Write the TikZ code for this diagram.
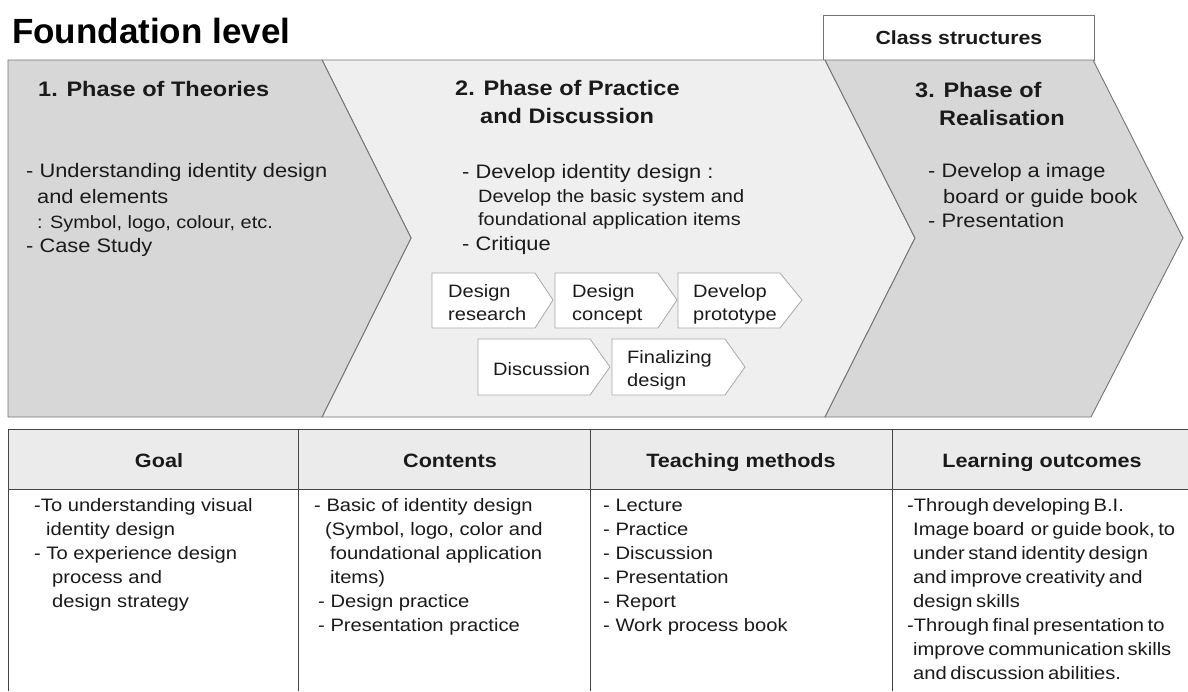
\documentclass[tikz,border=0pt]{standalone}
\usepackage{fontspec}
\setmainfont{Liberation Sans}[FakeStretch=1.12]
\newfontfamily\titlefont{Liberation Sans}
\newcommand\tightspaces{\spaceskip=3.6pt plus 1pt minus 1pt\relax}
\definecolor{darkchev}{HTML}{D7D7D7}
\definecolor{lightchev}{HTML}{EFEFEF}
\definecolor{edge}{HTML}{747474}
\definecolor{boxedge}{HTML}{A8A8A8}
\definecolor{hdr}{HTML}{EBEBEB}
\definecolor{tline}{HTML}{454545}
\definecolor{ink}{HTML}{1A1A1A}
\begin{document}
\begin{tikzpicture}[x=1pt,y=-1pt,
  chev/.style={draw=edge, line width=0.9pt, line join=miter},
  sbox/.style={draw=boxedge, fill=white, line width=0.8pt},
  ttl/.style={inner sep=0pt, anchor=base west, text=ink, font=\bfseries\fontsize{21}{28}\selectfont},
  body/.style={inner sep=0pt, anchor=base west, text=ink, font=\fontsize{19.5}{25}\selectfont},
  small/.style={inner sep=0pt, anchor=base west, text=ink, font=\fontsize{17.8}{23}\selectfont},
  boxtxt/.style={inner sep=0pt, anchor=base west, text=ink, align=left, font=\fontsize{17.9}{23}\selectfont},
  hdrtxt/.style={inner sep=0pt, anchor=base, text=ink, font=\bfseries\fontsize{19.3}{24}\selectfont},
  coltxt/.style={inner sep=0pt, anchor=base west, text=ink, align=left, font=\fontsize{18}{24}\selectfont},
  tl/.style={draw=tline, line width=1pt}]
\useasboundingbox (0,0) rectangle (1188,691);
\fill[white] (0,0) rectangle (1188,691);

% title
\node[inner sep=0pt, anchor=base west, text=black, font=\titlefont\bfseries\fontsize{35}{40}\selectfont] (title) at (12,43) {Foundation level};

% class structures tab
\node[draw=edge, fill=white, line width=0.9pt, minimum width=271pt, minimum height=45pt, anchor=north west, inner sep=0pt,
      text=ink, font=\bfseries\fontsize{19}{24}\selectfont] (cls) at (823,15) {Class structures};

% chevrons
\path[chev, fill=lightchev] (322,60) -- (825,60) -- (915,238) -- (825,417) -- (322,417) -- (411,238) -- cycle;
\path[chev, fill=darkchev] (8,60) -- (322,60) -- (411,238) -- (322,417) -- (8,417) -- cycle;
\path[chev, fill=darkchev] (825,60) -- (1093,60) -- (1183,238) -- (1091,417) -- (825,417) -- (915,238) -- cycle;

% phase 1
\node[ttl] (p1t) at (38,96) {1. Phase of Theories};
\node[body] (p1a) at (26,177) {- Understanding identity design};
\node[body] (p1b) at (37,203) {and elements};
\node[small] (p1c) at (37,228) {: Symbol, logo, colour, etc.};
\node[body] (p1d) at (26,252) {- Case Study};

% phase 2
\node[ttl] (p2t) at (455,95) {2. Phase of Practice};
\node[ttl] (p2u) at (480,123) {and Discussion};
\node[body] (p2a) at (462,178) {- Develop identity design :};
\node[small] (p2b) at (478,202) {Develop the basic system and};
\node[small] (p2c) at (478,225) {foundational application items};
\node[body] (p2d) at (462,250) {- Critique};

% phase 3
\node[ttl] (p3t) at (915,97) {3. Phase of};
\node[ttl] (p3u) at (939,125) {Realisation};
\node[body] (p3a) at (928,177) {- Develop a image};
\node[body] (p3b) at (943,203) {board or guide book};
\node[body] (p3c) at (928,227) {- Presentation};

% small process chevrons
\path[sbox] (432,273) -- (535,273) -- (553,300) -- (535,328) -- (432,328) -- cycle;
\path[sbox] (555,273) -- (658,273) -- (677,300) -- (658,328) -- (555,328) -- cycle;
\path[sbox] (678,273) -- (780,273) -- (802,300) -- (780,328) -- (678,328) -- cycle;
\path[sbox] (478,339) -- (590,339) -- (610,367) -- (590,395) -- (478,395) -- cycle;
\path[sbox] (612,339) -- (725,339) -- (745,367) -- (725,395) -- (612,395) -- cycle;
% (multi-line nodes: base anchor = last line baseline)
\node[boxtxt] (s1) at (448,320) {Design\\research};
\node[boxtxt] (s2) at (572,320) {Design\\concept};
\node[boxtxt] (s3) at (693,320) {Develop\\prototype};
\node[boxtxt] (s4) at (493,375) {Discussion};
\node[boxtxt] (s5) at (627,386) {Finalizing\\design};

% table
\fill[hdr] (8,429) rectangle (1188,489);
\draw[tl] (8,429) -- (1188,429);
\draw[tl] (8,489) -- (1188,489);
\draw[tl] (8,429) -- (8,691);
\draw[tl] (298,429) -- (298,691);
\draw[tl] (590,429) -- (590,691);
\draw[tl] (892,429) -- (892,691);

\node[hdrtxt] (h1) at (159,467) {Goal};
\node[hdrtxt] (h2) at (450,467) {Contents};
\node[hdrtxt] (h3) at (741,467) {Teaching methods};
\node[hdrtxt] (h4) at (1042,467) {Learning outcomes};

\node[coltxt] (c1) at (34,607) {-To understanding visual\\\hspace*{12pt}identity design\\- To experience design\\\hspace*{18pt}process and\\\hspace*{18pt}design strategy};
\node[coltxt] (c2) at (314,631) {- Basic of identity design\\\hspace*{11pt}(Symbol, logo, color and\\\hspace*{16pt}foundational application\\\hspace*{16pt}items)\\\hspace*{4pt}- Design practice\\\hspace*{4pt}- Presentation practice};
\node[coltxt] (c3) at (603,631) {- Lecture\\- Practice\\- Discussion\\- Presentation\\- Report\\- Work process book};
\node[coltxt, font=\fontsize{18}{24}\selectfont\tightspaces] (c4) at (907,679) {-Through developing B.I.\\\hspace*{6pt}Image board\hspace{3pt} or guide book, to\\\hspace*{6pt}under stand identity design\\\hspace*{6pt}and improve creativity and\\\hspace*{6pt}design skills\\-Through final presentation to\\\hspace*{6pt}improve communication skills\\\hspace*{6pt}and discussion abilities.};
\end{tikzpicture}
\end{document}
